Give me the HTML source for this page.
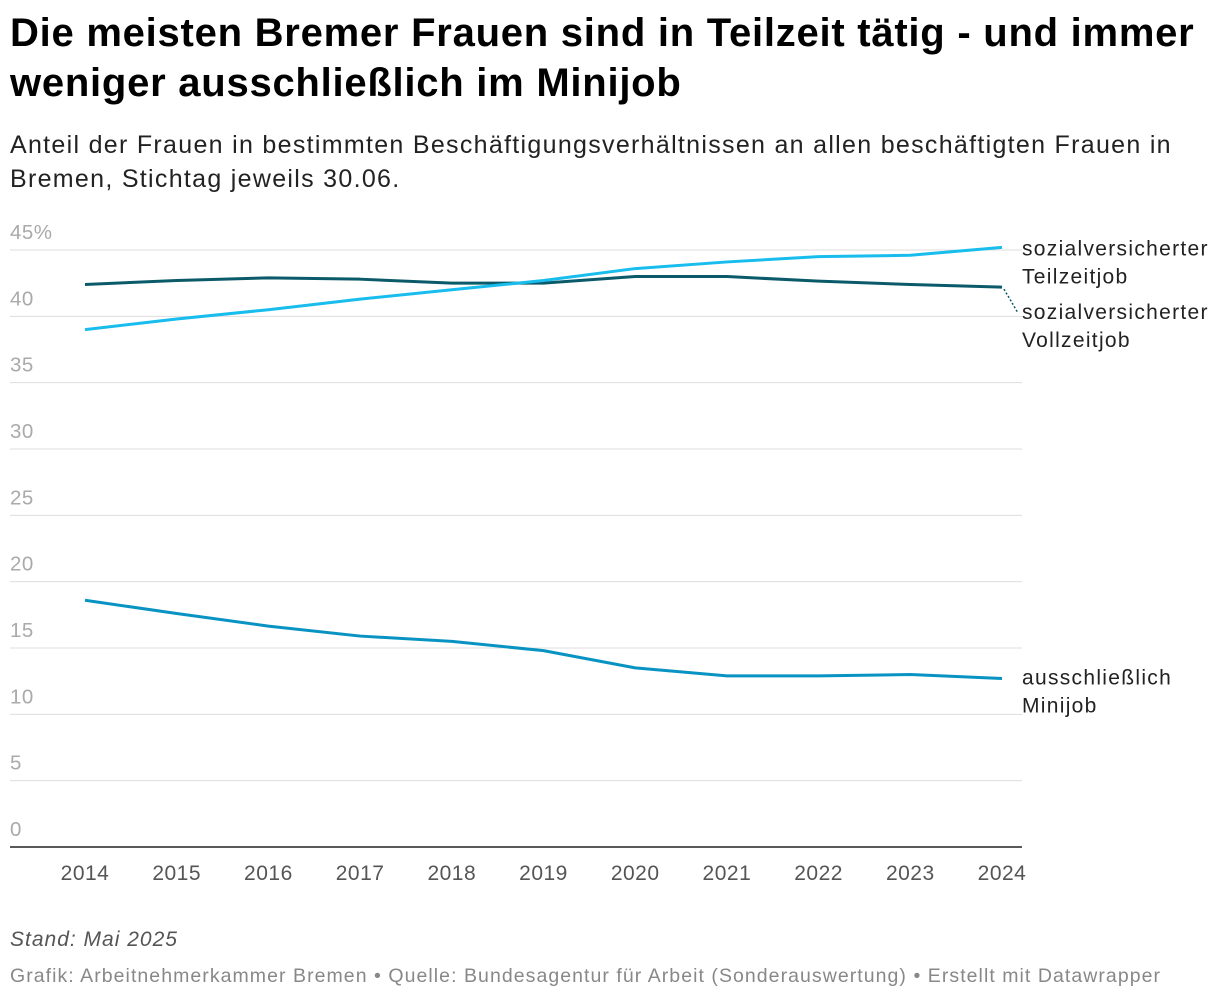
<!DOCTYPE html>
<html><head><meta charset="utf-8">
<style>
body{margin:0;background:#fff;font-family:"Liberation Sans",Arial,sans-serif;width:1220px;height:1002px;overflow:hidden;position:relative}
.t{position:absolute;left:10px;top:8px;font-size:40px;font-weight:bold;line-height:50px;color:#000;letter-spacing:0.75px;white-space:nowrap}
.s{position:absolute;left:10px;top:128px;font-size:25px;line-height:34px;color:#222;letter-spacing:1.3px;white-space:nowrap}
.f1{position:absolute;left:10px;top:928px;font-size:21px;font-style:italic;color:#555;letter-spacing:1px}
.f2{position:absolute;left:10px;top:965px;font-size:19.5px;color:#888;letter-spacing:1.05px;white-space:nowrap}
svg{position:absolute;left:0;top:0}
</style></head><body>
<div class="t">Die meisten Bremer Frauen sind in Teilzeit tätig - und immer<br>weniger ausschließlich im Minijob</div>
<div class="s">Anteil der Frauen in bestimmten Beschäftigungsverhältnissen an allen beschäftigten Frauen in<br>Bremen, Stichtag jeweils 30.06.</div>
<svg id="c" width="1220" height="1002"></svg>
<div class="f1">Stand: Mai 2025</div>
<div class="f2">Grafik: Arbeitnehmerkammer Bremen • Quelle: Bundesagentur für Arbeit (Sonderauswertung) • Erstellt mit Datawrapper</div>
<script>
const years=[2014,2015,2016,2017,2018,2019,2020,2021,2022,2023,2024];
const teilzeit=[39.0,39.8,40.5,41.3,42.0,42.7,43.6,44.1,44.5,44.6,45.2];
const vollzeit=[42.4,42.7,42.9,42.8,42.5,42.5,43.0,43.0,42.65,42.4,42.2];
const minijob=[18.6,17.6,16.65,15.9,15.5,14.8,13.5,12.9,12.9,13.0,12.7];
const yTicks=[0,5,10,15,20,25,30,35,40,45];
const NS="http://www.w3.org/2000/svg";
const svg=document.getElementById('c');
const x=i=>85+i*(1002-85)/10;
const y=v=>847-v*(847-250)/45;
function el(t,a){const e=document.createElementNS(NS,t);for(const k in a)e.setAttribute(k,a[k]);svg.appendChild(e);return e;}
yTicks.forEach(v=>{
  if(v>0){const g=el('line',{x1:10,x2:1022,y1:y(v),y2:y(v),stroke:'#ddd','stroke-width':1});
  
  }
  const t=el('text',{x:10,y:y(v)-11,'font-size':20.5,fill:'#aaa','letter-spacing':'0.5'});
  t.textContent=v===45?'45%':String(v);
  
  
});
const b=el('line',{x1:10,x2:1022,y1:847,y2:847,stroke:'#222','stroke-width':1.5});


years.forEach((yr,i)=>{
  const t=el('text',{x:x(i),y:880,'font-size':21,fill:'#555','text-anchor':'middle','letter-spacing':'0.5'});
  t.textContent=yr;
  
  
});
function line(arr,col,name){
  const p=el('polyline',{points:arr.map((v,i)=>x(i)+','+y(v)).join(' '),fill:'none',stroke:col,'stroke-width':3,'stroke-linejoin':'round'});
  
  
}
line(vollzeit,'#0b5a6a','vollzeit-line');
line(teilzeit,'#18bdee','teilzeit-line');
line(minijob,'#0993c3','minijob-line');
function lab(lines,yy,name){
  const t=el('text',{x:1022,y:yy,'font-size':21,fill:'#222','letter-spacing':'1.3'});
  lines.forEach((s,k)=>{const ts=document.createElementNS(NS,'tspan');ts.setAttribute('x',1022);ts.setAttribute('dy',k?28:0);ts.textContent=s;t.appendChild(ts);});
  
  
}
lab(['sozialversicherter','Teilzeitjob'],y(teilzeit[10])+8,'teilzeit-label');
lab(['sozialversicherter','Vollzeitjob'],319,'vollzeit-label');
lab(['ausschließlich','Minijob'],y(minijob[10])+6,'minijob-label');
const c=el('line',{x1:1004,y1:y(vollzeit[10])+2,x2:1018,y2:313,stroke:'#0b5a6a','stroke-width':1.5,'stroke-dasharray':'2,2'});


</script>
</body></html>
